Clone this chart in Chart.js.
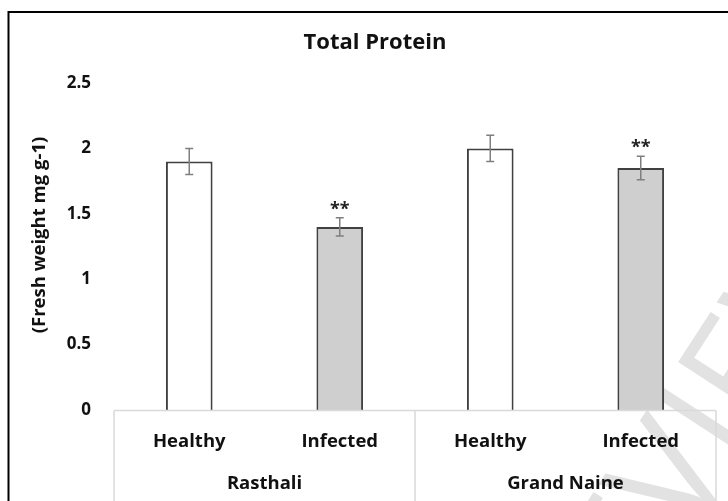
<!DOCTYPE html>
<html>
<head>
<meta charset="utf-8">
<script src="https://cdn.jsdelivr.net/npm/chart.js@4/dist/chart.umd.min.js"></script>
<style>
  html, body { margin: 0; padding: 0; background: #ffffff; }
  #wrap { width: 728px; height: 501px; position: relative; }
</style>
</head>
<body>
<div id="wrap"><canvas id="c" width="728" height="501"></canvas></div>
<script>
// Treatment categories, grouped by cultivar
const categories = ['Healthy', 'Infected', 'Healthy', 'Infected'];
const groups = ['Rasthali', 'Grand Naine'];
const groupSpans = [[0, 1], [2, 3]];

// Total protein (mg g-1 fresh weight) and standard errors
const proteinValues = [1.9, 1.4, 2.0, 1.85];
const errorValues = [0.1, 0.07, 0.1, 0.09];
const significance = ['', '**', '', '**'];

const yTicks = [0, 0.5, 1, 1.5, 2, 2.5];
const barFills = ['#ffffff', '#d0cfd0', '#ffffff', '#d0cfd0'];

const FONT = '"Open Sans", Lato, sans-serif';
const TEXT = '#111111';

const decorations = {
  id: 'decorations',
  beforeDraw(chart) {
    const ctx = chart.ctx;
    ctx.save();
    ctx.fillStyle = '#ffffff';
    ctx.fillRect(0, 0, chart.width, chart.height);
    // faint diagonal watermark behind everything
    ctx.translate(685, 548);
    ctx.rotate(-57 * Math.PI / 180);
    ctx.fillStyle = '#e2e2e2';
    ctx.font = '150px "Open Sans", sans-serif';
    ctx.textAlign = 'left';
    ctx.textBaseline = 'alphabetic';
    ctx.fillText('PREVIEW', -260, 0);
    ctx.restore();
  },
  afterDatasetsDraw(chart) {
    const ctx = chart.ctx;
    const x = chart.scales.x, y = chart.scales.y;
    ctx.save();
    // error bars and significance marks
    ctx.strokeStyle = '#7f7f7f';
    ctx.lineWidth = 1.5;
    proteinValues.forEach((v, i) => {
      const cx = x.getPixelForValue(i);
      const top = y.getPixelForValue(v + errorValues[i]);
      const bot = y.getPixelForValue(v - errorValues[i]);
      ctx.beginPath();
      ctx.moveTo(cx, top); ctx.lineTo(cx, bot);
      ctx.moveTo(cx - 4, top); ctx.lineTo(cx + 4, top);
      ctx.moveTo(cx - 4, bot); ctx.lineTo(cx + 4, bot);
      ctx.stroke();
      if (significance[i]) {
        ctx.fillStyle = '#222222';
        ctx.font = 'bold 18px ' + FONT;
        ctx.textAlign = 'center';
        ctx.textBaseline = 'alphabetic';
        ctx.fillText(significance[i], cx, top - 3);
      }
    });
    ctx.restore();
  },
  afterDraw(chart) {
    const ctx = chart.ctx;
    const x = chart.scales.x;
    const area = chart.chartArea;
    ctx.save();
    // category frame below the plot
    ctx.strokeStyle = '#d9d9d9';
    ctx.lineWidth = 1.5;
    const yTop = area.bottom + 0.5;
    ctx.beginPath();
    ctx.moveTo(area.left, yTop); ctx.lineTo(area.right, yTop);
    const seps = [area.left, (x.getPixelForValue(1) + x.getPixelForValue(2)) / 2, area.right];
    seps.forEach(sx => { ctx.moveTo(sx, yTop); ctx.lineTo(sx, chart.height); });
    ctx.stroke();

    // cultivar labels
    ctx.fillStyle = TEXT;
    ctx.font = 'bold 18.5px ' + FONT;
    ctx.textAlign = 'center';
    ctx.textBaseline = 'middle';
    groups.forEach((g, k) => {
      const cx = (x.getPixelForValue(groupSpans[k][0]) + x.getPixelForValue(groupSpans[k][1])) / 2;
      ctx.fillText(g, cx, 484);
    });

    // chart title
    ctx.font = 'bold 22px ' + FONT;
    ctx.fillText('Total Protein', 375, 43);

    // y axis title
    ctx.save();
    ctx.translate(40, 235);
    ctx.rotate(-Math.PI / 2);
    ctx.font = 'bold 18.5px ' + FONT;
    ctx.fillText('(Fresh weight mg g-1)', 0, 0);
    ctx.restore();

    // outer frame
    ctx.strokeStyle = '#000000';
    ctx.lineWidth = 2;
    ctx.strokeRect(8.5, 12, 800, 600);
    ctx.restore();
  }
};

new Chart(document.getElementById('c'), {
  type: 'bar',
  data: {
    labels: categories,
    datasets: [{
      data: proteinValues,
      backgroundColor: barFills,
      borderColor: '#404040',
      borderWidth: 2,
      barPercentage: 0.31,
      categoryPercentage: 1.0
    }]
  },
  options: {
    responsive: false,
    animation: false,
    devicePixelRatio: 1,
    layout: { padding: { top: 83, right: 12, left: 0, bottom: 0 } },
    plugins: { legend: { display: false }, tooltip: { enabled: false }, title: { display: false } },
    scales: {
      x: {
        grid: { display: false },
        border: { display: false },
        ticks: { font: { family: FONT, weight: 'bold', size: 18.5 }, color: TEXT, padding: 13 },
        afterFit(s) { s.height = 91; }
      },
      y: {
        min: 0,
        max: 2.5,
        afterBuildTicks(s) { s.ticks = yTicks.map(v => ({ value: v })); },
        grid: { display: false, drawTicks: false },
        border: { display: false },
        ticks: {
          font: { family: FONT, weight: 'bold', size: 17 },
          color: TEXT,
          padding: 23,
          callback: v => String(v)
        },
        afterFit(s) { s.width = 114; }
      }
    }
  },
  plugins: [decorations]
});
</script>
</body>
</html>
